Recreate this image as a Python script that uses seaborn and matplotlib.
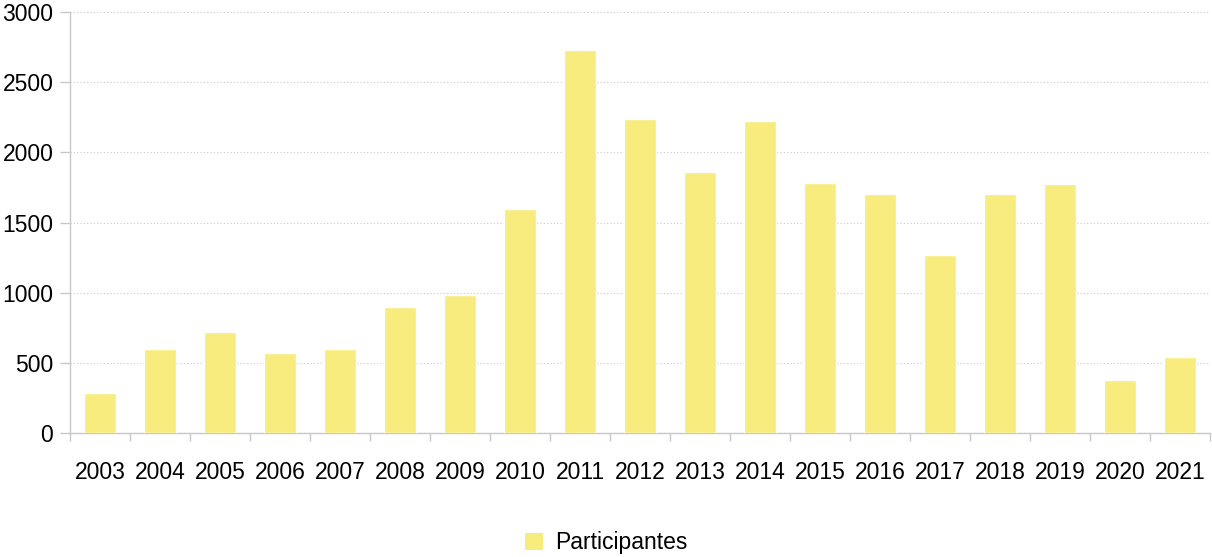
import matplotlib
matplotlib.use("Agg")
import matplotlib.pyplot as plt
import seaborn as sns
import pandas as pd
import numpy as np
from matplotlib.patches import Patch

years = ["2003", "2004", "2005", "2006", "2007", "2008", "2009", "2010", "2011", "2012",
         "2013", "2014", "2015", "2016", "2017", "2018", "2019", "2020", "2021"]
participantes = [285, 600, 720, 570, 600, 900, 980, 1595, 2730, 2235,
                 1860, 2220, 1785, 1700, 1265, 1700, 1775, 378, 542]
y_ticks = [0, 500, 1000, 1500, 2000, 2500, 3000]
series_name = "Participantes"

sns.set_theme(style="white")
plt.rcParams['font.family'] = ['Liberation Sans', 'DejaVu Sans']

df = pd.DataFrame({"year": years, "value": participantes})
color = "#F8EC7E"
fs = 16.5

fig = plt.figure(figsize=(12.12, 5.57), dpi=100)
ax = fig.add_axes([70/1212, 1 - 433/557, (1210-70)/1212, (433-12)/557])
sns.barplot(data=df, x="year", y="value", color=color, width=0.53, ax=ax,
            saturation=1, zorder=3)

ax.set_xlim(-0.5, len(years) - 0.5)
ax.set_ylim(0, 3000)
ax.set_yticks(y_ticks)
ax.set_yticklabels([str(v) for v in y_ticks], fontsize=fs, color="#000000")
ax.yaxis.grid(True, linestyle=(0, (1, 2)), color="#c8c8c8", linewidth=0.8, zorder=0)
ax.xaxis.grid(False)
ax.set_xlabel("")
ax.set_ylabel("")

for s in ["top", "right"]:
    ax.spines[s].set_visible(False)
for s in ["left", "bottom"]:
    ax.spines[s].set_color("#c8c8c8")
    ax.spines[s].set_linewidth(1.0)

ax.tick_params(axis="y", which="major", left=True, length=7, width=1, color="#c8c8c8", pad=5)
ax.tick_params(axis="x", which="major", bottom=False, length=0, pad=20, labelsize=fs, labelcolor="#000000")
ax.set_xticks(np.arange(-0.5, len(years)), minor=True)
ax.tick_params(axis="x", which="minor", bottom=True, length=6, width=1, color="#c8c8c8")

handles = [Patch(facecolor=color, edgecolor="none", label=series_name)]
fig.legend(handles=handles, loc="center", bbox_to_anchor=(0.5, 1 - 543/557),
           frameon=False, fontsize=fs, handlelength=0.8, handleheight=0.8,
           handletextpad=0.5, labelcolor="#000000")

fig.savefig("out.png", dpi=100)
